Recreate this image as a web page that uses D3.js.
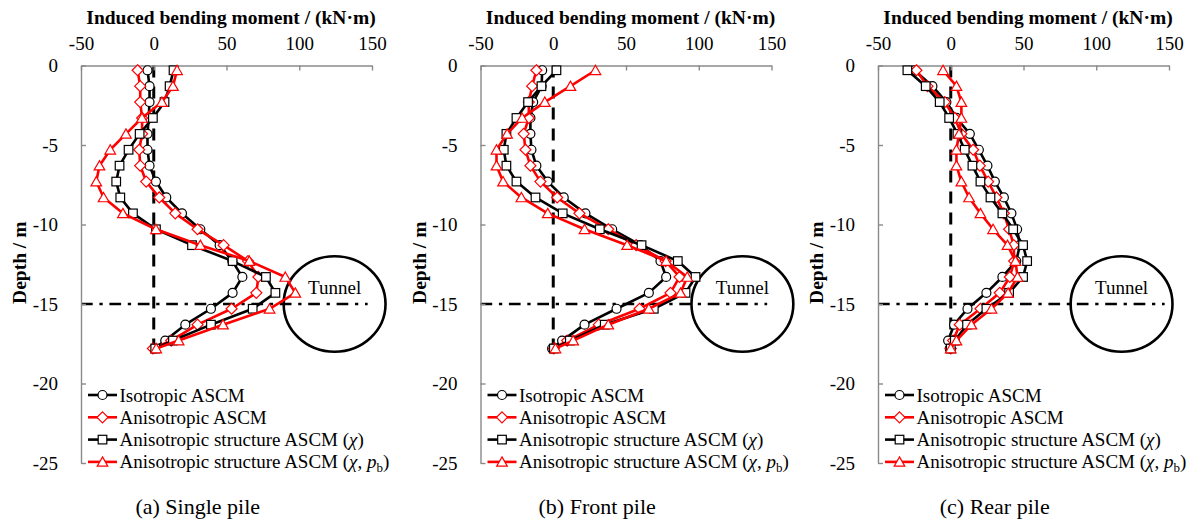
<!DOCTYPE html>
<html>
<head>
<meta charset="utf-8">
<script src="https://cdn.jsdelivr.net/npm/d3@7"></script>
<style>
  body { margin: 0; background: #fff; }
  svg { display: block; font-family: "Liberation Serif", "Times New Roman", serif; }
</style>
</head>
<body>
<script>
// Depth of each computed pile section (m)
const depths = [-0.3, -1.3, -2.3, -3.3, -4.3, -5.3, -6.3, -7.3, -8.3, -9.3,
                -10.3, -11.3, -12.3, -13.3, -14.3, -15.3, -16.3, -17.3, -17.8];

// Induced bending moment (kN·m) — single pile
const singleIso    = [-4.3, -2.9, -2.9, -3.5, -4.3, -4.3, -2.9, 1.5, 8.6, 19.4, 32, 45.3, 54, 60.9, 54.2, 39.3, 21.7, 7.9, 0.5];
const singleAniso  = [-11.1, -9.3, -9.3, -8, -8, -10, -9.3, -5.2, 3.8, 14.8, 30.1, 48, 64.8, 71.9, 70.5, 53.5, 30.1, 12, -0.6];
const singleChi    = [13.6, 10.9, 7.4, -0.6, -9.7, -17.3, -23.5, -25.8, -23, -14.3, 1.5, 26.3, 54.2, 77.1, 83.6, 68, 39.3, 13.2, 1];
const singleChiPb  = [16, 13.2, 5.6, -8.1, -19.1, -29.9, -37.3, -39.5, -34.5, -21.2, 1.5, 32, 65.7, 90.4, 97.3, 79.6, 47.6, 17.1, 1.7];

// Front pile
const frontIso     = [-7.6, -8, -13.8, -15.7, -15.7, -15, -11.6, -3.8, 7.2, 22.1, 40.5, 60, 73.7, 77.6, 65.7, 43.5, 21.5, 6.1, -0.8];
const frontAniso   = [-11.6, -14.5, -16.8, -16.8, -20.3, -19.1, -15.7, -8.8, 2.7, 18, 37.8, 57, 77.2, 86.8, 80.6, 59.3, 31.3, 9.6, 0.4];
const frontChi     = [2.2, -8.1, -17.3, -25.3, -32.2, -34, -32.2, -25.3, -12.2, 6.5, 32, 60.7, 85.6, 97.8, 90.9, 69.1, 35.4, 11.4, 0.4];
const frontChiPb   = [29, 11.8, -5.8, -21.4, -31.7, -39, -39, -34.5, -21.9, -3.8, 21.5, 50.8, 77.6, 92.1, 87.5, 65.7, 37.8, 13.7, 1.5];

// Rear pile
const rearIso      = [-25, -12.6, -3, 4, 13.1, 19.3, 25.2, 30.3, 36.5, 41.7, 45.6, 47.5, 45, 35.5, 24.5, 11.5, 2.3, -1.8, -0.7];
const rearAniso    = [-23.6, -16, -4.1, 2.8, 7.3, 15.4, 20, 25.7, 31.4, 36.5, 40.1, 43.3, 43.6, 40.6, 33.7, 20.4, 6.2, 1.6, 0];
const rearChi      = [-29.8, -17.2, -7.6, -1.1, 4.6, 9.6, 14.9, 20.4, 27.3, 35.5, 42.9, 49.7, 52.5, 49.7, 40.1, 24.5, 11.2, 2.8, 0];
const rearChiPb    = [-5.3, 3.9, 7.3, 7.3, 5.7, 3.9, 3.9, 7.3, 12.6, 20.4, 29.1, 39, 44.5, 45.9, 39.4, 28, 14.2, 3.9, 0];

const seriesNames = ["Isotropic ASCM", "Anisotropic ASCM",
                     "Anisotropic structure ASCM (\u03c7)", "Anisotropic structure ASCM (\u03c7, pb)"];
const panelCaptions = ["(a) Single pile", "(b) Front pile", "(c) Rear pile"];
const xTicks = [-50, 0, 50, 100, 150];
const yTicks = [0, -5, -10, -15, -20, -25];
const tunnelDepth = -15;        // tunnel axis depth (m)
const tunnelRadius = 3;         // tunnel radius (m)
const pileToe = -17.8;          // pile tip depth (m)

// Series styling: colour and marker shape
const seriesStyle = [
  { color: "#000000", shape: "circle" },
  { color: "#ff0000", shape: "diamond" },
  { color: "#000000", shape: "square" },
  { color: "#ff0000", shape: "triangle" }
];

const panelSeries = [
  [singleIso, singleAniso, singleChi, singleChiPb],
  [frontIso, frontAniso, frontChi, frontChiPb],
  [rearIso, rearAniso, rearChi, rearChiPb]
];

// Panel layout
const panelLeft = [81, 480.5, 878];
const tunnelX = [124.3, 130, 117.4];  // horizontal placement of the tunnel sketch (in moment units)
const plotTop = 65.5, plotW = 291, plotH = 397.5;
const axisGrey = "#8a8a8a";

const svg = d3.select("body").append("svg")
  .attr("width", 1203).attr("height", 523);

const x = d3.scaleLinear().domain([-50, 150]).range([0, plotW]);
const y = d3.scaleLinear().domain([0, -25]).range([0, plotH]);

function drawMarker(g, shape, cx, cy, color) {
  const common = m => m.attr("fill", "#fff").attr("stroke", color).attr("stroke-width", 1.2);
  if (shape === "circle") {
    common(g.append("circle").attr("cx", cx).attr("cy", cy).attr("r", 4.5));
  } else if (shape === "square") {
    common(g.append("rect").attr("x", cx - 4.3).attr("y", cy - 4.3).attr("width", 8.6).attr("height", 8.6));
  } else if (shape === "diamond") {
    const r = 5.5;
    common(g.append("path").attr("d", `M${cx},${cy - r}L${cx + r},${cy}L${cx},${cy + r}L${cx - r},${cy}Z`));
  } else {
    common(g.append("path").attr("d", `M${cx},${cy - 5}L${cx + 5.3},${cy + 4.3}L${cx - 5.3},${cy + 4.3}Z`));
  }
}

panelSeries.forEach((seriesSet, p) => {
  const g = svg.append("g").attr("transform", `translate(${panelLeft[p]},${plotTop})`);

  // Pile axis (zero moment) and tunnel axis reference lines
  g.append("line")
    .attr("x1", x(0)).attr("x2", x(0)).attr("y1", y(0)).attr("y2", y(pileToe))
    .attr("stroke", "#000").attr("stroke-width", 3).attr("stroke-dasharray", "12,9");
  g.append("line")
    .attr("x1", x(-50)).attr("x2", x(147)).attr("y1", y(tunnelDepth)).attr("y2", y(tunnelDepth))
    .attr("stroke", "#000").attr("stroke-width", 2.6).attr("stroke-dasharray", "11.7,6.7,3.3,6.7");

  // Tunnel outline
  const tcx = x(tunnelX[p]), tcy = y(tunnelDepth);
  g.append("ellipse")
    .attr("cx", tcx).attr("cy", tcy)
    .attr("rx", x(tunnelX[p] + 35) - tcx)
    .attr("ry", y(tunnelDepth - tunnelRadius) - tcy)
    .attr("fill", "none").attr("stroke", "#000").attr("stroke-width", 2.6);
  g.append("text")
    .attr("x", tcx).attr("y", tcy - 10.5)
    .attr("text-anchor", "middle").attr("font-size", 19).text("Tunnel");

  // Axes: moment on top, depth on the left, ticks pointing inward
  const xAxis = g.append("g")
    .call(d3.axisTop(x).tickValues(xTicks).tickSizeInner(-5).tickSizeOuter(0)
      .tickPadding(16).tickFormat(d => String(d)));
  const yAxis = g.append("g")
    .call(d3.axisLeft(y).tickValues(yTicks).tickSizeInner(-5).tickSizeOuter(0)
      .tickPadding(23).tickFormat(d => String(d)));
  [xAxis, yAxis].forEach(a => {
    a.select(".domain").attr("stroke", axisGrey).attr("stroke-width", 1.4);
    a.selectAll(".tick line").attr("stroke", axisGrey).attr("stroke-width", 1.4);
    a.selectAll(".tick text").attr("font-size", 19).attr("fill", "#000")
      .attr("font-family", "Liberation Serif, Times New Roman, serif");
  });

  // Axis titles
  g.append("text")
    .attr("x", plotW / 2 + 4.5).attr("y", 24 - plotTop)
    .attr("text-anchor", "middle").attr("font-size", 19.5).attr("font-weight", "bold")
    .text("Induced bending moment / (kN\u00b7m)");
  g.append("text")
    .attr("transform", `translate(-55,${plotH / 2 - 1.5}) rotate(-90)`)
    .attr("text-anchor", "middle").attr("font-size", 19.5).attr("font-weight", "bold")
    .text("Depth / m");

  // Moment profiles
  const line = d3.line().x(d => x(d[0])).y(d => y(d[1]));
  seriesSet.forEach((vals, s) => {
    const pts = vals.map((v, i) => [v, depths[i]]);
    const st = seriesStyle[s];
    g.append("path").datum(pts).attr("d", line)
      .attr("fill", "none").attr("stroke", st.color).attr("stroke-width", 2.6)
      .attr("stroke-linejoin", "round");
    const mg = g.append("g");
    pts.forEach(d => drawMarker(mg, st.shape, x(d[0]), y(d[1]), st.color));
  });

  // Legend
  const lg = g.append("g").attr("transform", `translate(7,${395 - plotTop})`);
  seriesNames.forEach((name, s) => {
    const st = seriesStyle[s];
    const ry = s * 22.3;
    lg.append("line").attr("x1", 0).attr("x2", 29).attr("y1", ry).attr("y2", ry)
      .attr("stroke", st.color).attr("stroke-width", 2.6);
    drawMarker(lg, st.shape, 14.5, ry, st.color);
    const t = lg.append("text").attr("x", 31.5).attr("y", ry + 6.5).attr("font-size", 19);
    if (s === 3) {
      t.append("tspan").text("Anisotropic structure ASCM (");
      t.append("tspan").attr("font-style", "italic").text("\u03c7");
      t.append("tspan").text(", ");
      t.append("tspan").attr("font-style", "italic").text("p");
      t.append("tspan").attr("font-size", 13).attr("dy", 4).text("b");
      t.append("tspan").attr("dy", -4).text(")");
    } else if (s === 2) {
      t.append("tspan").text("Anisotropic structure ASCM (");
      t.append("tspan").attr("font-style", "italic").text("\u03c7");
      t.append("tspan").text(")");
    } else {
      t.text(name);
    }
  });

  // Panel caption
  g.append("text")
    .attr("x", 116.7).attr("y", 514 - plotTop)
    .attr("text-anchor", "middle").attr("font-size", 22)
    .text(panelCaptions[p]);
});
</script>
</body>
</html>
